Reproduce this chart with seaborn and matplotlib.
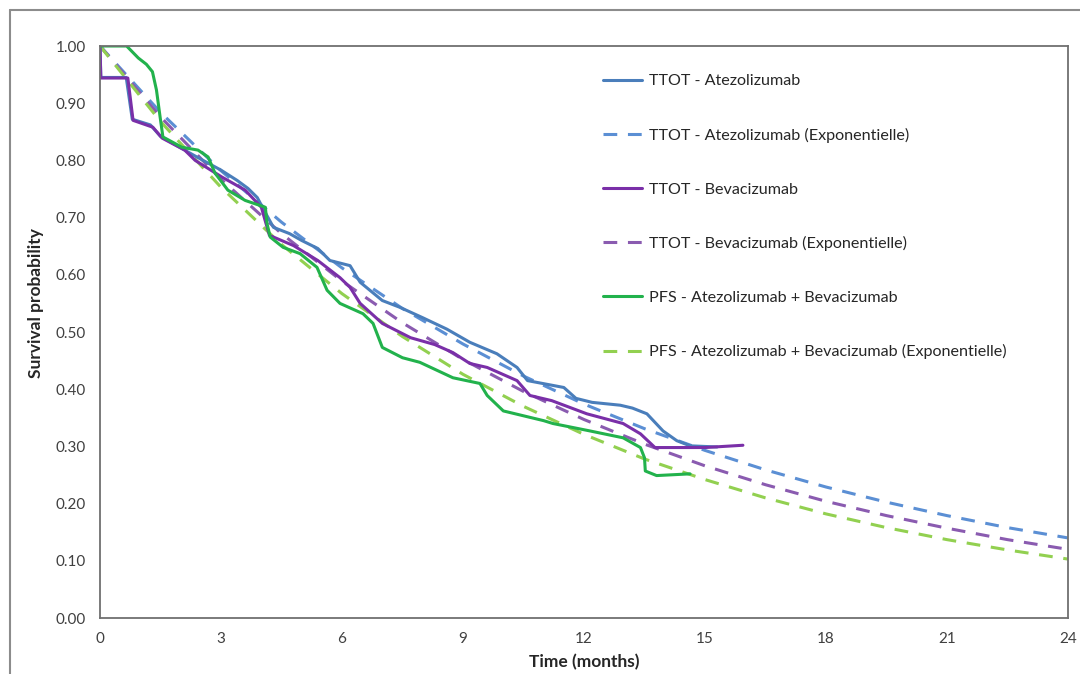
import matplotlib
matplotlib.use("Agg")
import matplotlib.pyplot as plt
import seaborn as sns
import pandas as pd
from matplotlib.lines import Line2D

# ---------------- data ----------------
ttot_atezo_t = [0, 0.02, 0.65, 0.8, 1.25, 1.5, 2.0, 2.4, 3.0, 3.4, 3.67, 3.9, 4.05, 4.3, 4.7, 5.0,
                5.4, 5.7, 6.2, 6.45, 7.0, 7.44, 8.0, 8.6, 9.17, 9.84, 10.34, 10.6, 11.5, 11.8,
                12.2, 12.9, 13.2, 13.56, 13.96, 14.3, 14.63, 15.3]
ttot_atezo_s = [1.0, 0.945, 0.945, 0.872, 0.862, 0.842, 0.822, 0.806, 0.783, 0.765, 0.751, 0.735,
                0.715, 0.683, 0.672, 0.66, 0.646, 0.625, 0.616, 0.587, 0.555, 0.543, 0.525, 0.505,
                0.482, 0.462, 0.438, 0.415, 0.403, 0.384, 0.377, 0.372, 0.367, 0.357, 0.327, 0.31,
                0.301, 0.299]

ttot_bev_t = [0, 0.02, 0.69, 0.82, 1.31, 1.54, 2.1, 2.36, 3.02, 3.6, 4.0, 4.2, 4.8, 5.4, 5.95, 6.2,
              6.45, 7.0, 7.7, 8.3, 8.75, 9.17, 9.6, 10.34, 10.66, 11.2, 12.07, 12.97, 13.4, 13.76,
              15.0, 15.94]
ttot_bev_s = [1.0, 0.944, 0.944, 0.87, 0.858, 0.839, 0.818, 0.80, 0.771, 0.748, 0.718, 0.669, 0.651,
              0.625, 0.595, 0.578, 0.55, 0.515, 0.49, 0.478, 0.464, 0.445, 0.438, 0.415, 0.389,
              0.38, 0.357, 0.34, 0.322, 0.298, 0.298, 0.302]

pfs_t = [0, 0.66, 0.95, 1.15, 1.3, 1.4, 1.49, 1.56, 2.03, 2.43, 2.68, 2.85, 3.17, 3.6, 4.1, 4.14,
         4.22, 4.54, 4.96, 5.38, 5.63, 5.95, 6.52, 6.77, 7.0, 7.5, 7.93, 8.75, 9.42, 9.6, 10.0,
         11.0, 11.23, 12.15, 12.97, 13.4, 13.5, 13.52, 13.8, 14.63]
pfs_s = [1.0, 1.0, 0.979, 0.968, 0.955, 0.923, 0.876, 0.841, 0.823, 0.818, 0.806, 0.778, 0.748,
         0.73, 0.718, 0.69, 0.666, 0.648, 0.637, 0.613, 0.573, 0.55, 0.532, 0.515, 0.473, 0.455,
         0.447, 0.42, 0.41, 0.389, 0.362, 0.345, 0.34, 0.327, 0.315, 0.298, 0.28, 0.257, 0.249,
         0.252]

exp_t = [0, 1.5, 3, 4.5, 6, 7.5, 9, 10.5, 12, 13.5, 15, 16.5, 18, 19.5, 21, 22.5, 24]
exp_atezo_s = [1.0, 0.884, 0.782, 0.692, 0.612, 0.541, 0.479, 0.423, 0.374, 0.331, 0.293, 0.259,
               0.229, 0.2025, 0.179, 0.158, 0.140]
exp_bev_s = [1.0, 0.876, 0.767, 0.672, 0.589, 0.516, 0.452, 0.396, 0.347, 0.304, 0.266, 0.233,
             0.204, 0.179, 0.157, 0.137, 0.120]
exp_pfs_s = [1.0, 0.868, 0.753, 0.653, 0.567, 0.492, 0.426, 0.370, 0.321, 0.278, 0.242, 0.210,
             0.182, 0.158, 0.137, 0.119, 0.103]

labels = ["TTOT - Atezolizumab",
          "TTOT - Atezolizumab (Exponentielle)",
          "TTOT - Bevacizumab",
          "TTOT - Bevacizumab (Exponentielle)",
          "PFS - Atezolizumab + Bevacizumab",
          "PFS - Atezolizumab + Bevacizumab (Exponentielle)"]
x_ticks = [0, 3, 6, 9, 12, 15, 18, 21, 24]
y_ticks = [0.0, 0.1, 0.2, 0.3, 0.4, 0.5, 0.6, 0.7, 0.8, 0.9, 1.0]

# ---------------- style ----------------
sns.set_style("white")
plt.rcParams['font.family'] = ['Lato', 'DejaVu Sans']

fig = plt.figure(figsize=(10.8, 6.74), dpi=100)
ax = fig.add_axes([100/1080, 1-618/674, (1068-100)/1080, (618-46)/674])

col_blue = "#4A7EBB"
col_blue_d = "#5B8FD4"
col_purple = "#7A2FA8"
col_purple_d = "#8A5BB0"
col_green = "#22B24C"
col_green_d = "#92D050"

series = [
    (ttot_atezo_t, ttot_atezo_s, labels[0], col_blue, "-"),
    (exp_t, exp_atezo_s, labels[1], col_blue_d, "--"),
    (ttot_bev_t, ttot_bev_s, labels[2], col_purple, "-"),
    (exp_t, exp_bev_s, labels[3], col_purple_d, "--"),
    (pfs_t, pfs_s, labels[4], col_green, "-"),
    (exp_t, exp_pfs_s, labels[5], col_green_d, "--"),
]
draw_order = [1, 3, 5, 0, 2, 4]
handles = {}
for i in draw_order:
    t, s, lab, c, ls = series[i]
    df = pd.DataFrame({"t": t, "s": s})
    sns.lineplot(x="t", y="s", data=df, ax=ax, color=c, sort=False, estimator=None,
                 linewidth=2.2, label=lab)
    line = ax.lines[-1]
    line.set_solid_joinstyle("round")
    if ls == "--":
        line.set_dashes((4.5, 3.5))
        line.set_dash_capstyle("butt")
    handles[i] = line

ax.set_xlim(0, 24)
ax.set_ylim(0, 1.0)
ax.set_xticks(x_ticks)
ax.set_xticklabels([str(v) for v in x_ticks])
ax.set_yticks(y_ticks)
ax.set_yticklabels([f"{v:.2f}" for v in y_ticks])
ax.tick_params(axis="both", direction="out", length=4, width=1, colors="#606060",
               labelsize=11, labelcolor="#404040", pad=6)
for sp in ax.spines.values():
    sp.set_color("#707070")
    sp.set_linewidth(1.3)
ax.set_xlabel("Time (months)", fontsize=12.5, fontweight="bold", color="#262626", labelpad=6)
ax.set_ylabel("Survival probability", fontsize=12.5, fontweight="bold", color="#262626")
ax.yaxis.set_label_coords(-0.058, 0.55)

leg = ax.legend([handles[i] for i in range(6)], labels, loc="upper left",
                bbox_to_anchor=(603/1080, 1-74/674), bbox_transform=fig.transFigure,
                frameon=False, fontsize=11.6, labelspacing=2.45, handlelength=2.45,
                handletextpad=0.4, borderaxespad=0, borderpad=0)
for txt in leg.get_texts():
    txt.set_color("#262626")

# outer frame
fig.add_artist(Line2D([10/1080, 10/1080], [0, 1-10/674], transform=fig.transFigure,
                      color="#8c8c8c", linewidth=1.5))
fig.add_artist(Line2D([10/1080, 1.0], [1-10/674, 1-10/674], transform=fig.transFigure,
                      color="#8c8c8c", linewidth=1.5))

fig.savefig("out.png", dpi=100)
